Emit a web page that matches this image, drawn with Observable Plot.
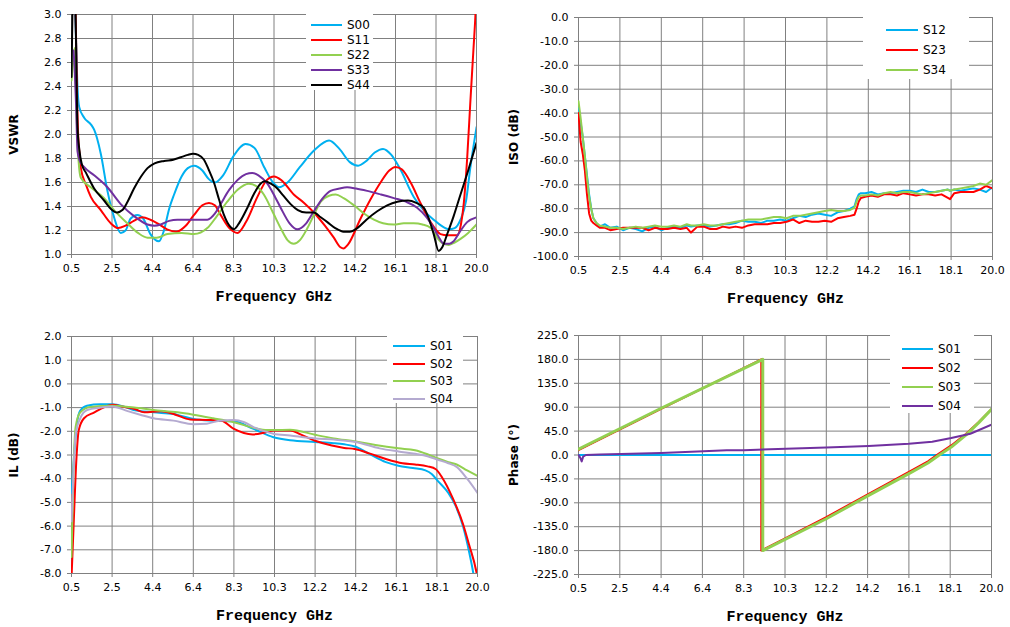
<!DOCTYPE html>
<html>
<head>
<meta charset="utf-8">
<script src="https://cdn.jsdelivr.net/npm/d3@7"></script>
<script src="https://cdn.jsdelivr.net/npm/@observablehq/plot@0.6"></script>
<style>
  html, body { margin: 0; padding: 0; background: #fff; }
  #wrap { position: relative; width: 1010px; height: 627px; overflow: hidden; background: #fff; }
  .panel { position: absolute; }
  .panel svg { display: block; overflow: visible; }
  g[aria-label="x-axis label"] text { font: bold 15px "Liberation Mono", monospace; }
  g[aria-label="y-axis label"] text { font: bold 12px "DejaVu Sans", sans-serif; }
  .legend { position: absolute; background: #fff; font: 12px "DejaVu Sans", sans-serif; color: #000; }
  .legend .sw { position: absolute; height: 2px; }
  .legend .lb { position: absolute; line-height: 14px; }
</style>
</head>
<body>
<div id="wrap"></div>
<script>
// ---------- shared x axis ----------
const xTicks = [0.5, 2.45, 4.4, 6.35, 8.3, 10.25, 12.2, 14.15, 16.1, 18.05, 20.0];
const xTickLabels = ["0.5","2.5","4.4","6.4","8.3","10.3","12.2","14.2","16.1","18.1","20.0"];

// ---------- VSWR ----------
const vswrTicks = [1.0,1.2,1.4,1.6,1.8,2.0,2.2,2.4,2.6,2.8,3.0];
const vswrNames = ["S00","S11","S22","S33","S44"];
const vswrColors = ["#00b0f0","#ff0000","#92d050","#7030a0","#000000"];
const vswrS00 = [[0.6,3.3],[0.71,2.84],[0.79,2.39],[0.87,2.23],[1.11,2.14],[1.45,2.08],[1.59,2.04],[1.91,1.84],[2.23,1.53],[2.55,1.31],[2.87,1.18],[3.1,1.2],[3.35,1.3],[3.67,1.33],[3.95,1.3],[4.3,1.17],[4.71,1.11],[4.95,1.2],[5.2,1.38],[5.44,1.5],[5.8,1.65],[6.1,1.72],[6.4,1.74],[6.8,1.7],[7.1,1.63],[7.4,1.6],[7.8,1.66],[8.3,1.82],[8.88,1.92],[9.3,1.89],[9.8,1.72],[10.2,1.6],[10.5,1.56],[10.9,1.6],[11.5,1.73],[12.2,1.87],[12.9,1.95],[13.4,1.88],[13.9,1.77],[14.3,1.74],[14.7,1.78],[15.1,1.85],[15.5,1.88],[15.9,1.83],[16.3,1.72],[16.98,1.48],[17.5,1.36],[17.94,1.29],[18.3,1.24],[18.67,1.21],[18.95,1.22],[19.23,1.29],[19.5,1.45],[19.7,1.72],[20,2.06]];
const vswrS11 = [[0.66,3.3],[0.72,2.8],[0.77,2.3],[0.82,2.0],[0.9,1.82],[0.95,1.72],[1.2,1.58],[1.43,1.48],[1.91,1.37],[2.39,1.26],[2.75,1.22],[3.1,1.24],[3.5,1.28],[3.9,1.31],[4.3,1.29],[4.64,1.26],[5.1,1.21],[5.55,1.19],[6.0,1.24],[6.4,1.33],[6.8,1.41],[7.12,1.43],[7.4,1.41],[7.68,1.33],[8.1,1.22],[8.49,1.18],[8.9,1.27],[9.45,1.48],[9.9,1.62],[10.25,1.65],[10.6,1.62],[11.2,1.5],[11.7,1.43],[12.17,1.35],[12.7,1.24],[13.13,1.14],[13.45,1.06],[13.6,1.05],[13.8,1.08],[14.42,1.30],[14.9,1.46],[15.38,1.6],[15.8,1.7],[16.1,1.73],[16.4,1.71],[16.83,1.6],[17.3,1.43],[17.79,1.27],[18.27,1.17],[18.6,1.16],[19.07,1.16],[19.25,1.25],[19.39,1.43],[19.55,1.8],[19.7,2.26],[19.85,2.7],[19.95,3.0],[20,3.2]];
const vswrS22 = [[0.5,2.45],[0.6,2.65],[0.66,2.72],[0.72,2.35],[0.78,1.98],[0.87,1.72],[0.95,1.64],[1.43,1.56],[2.07,1.47],[2.55,1.37],[3.19,1.26],[3.7,1.18],[4.16,1.14],[4.6,1.14],[5.12,1.17],[5.8,1.18],[6.4,1.17],[7.04,1.22],[7.5,1.32],[8.0,1.44],[8.5,1.54],[9.04,1.59],[9.4,1.57],[9.76,1.50],[10.2,1.35],[10.57,1.22],[10.9,1.12],[11.2,1.09],[11.5,1.12],[11.86,1.22],[12.2,1.34],[12.5,1.44],[12.9,1.49],[13.22,1.5],[13.6,1.47],[14.1,1.41],[14.6,1.34],[15.06,1.29],[15.5,1.26],[16.02,1.25],[16.5,1.26],[16.98,1.26],[17.4,1.25],[17.8,1.22],[18.1,1.14],[18.4,1.09],[18.67,1.08],[18.95,1.1],[19.23,1.13],[19.6,1.18],[20,1.25]];
const vswrS33 = [[0.6,2.7],[0.65,2.55],[0.72,2.25],[0.79,1.86],[0.9,1.78],[1.1,1.73],[1.59,1.66],[2.23,1.56],[2.87,1.42],[3.51,1.32],[4.16,1.25],[4.5,1.24],[4.8,1.25],[5.2,1.28],[5.6,1.29],[6.4,1.29],[7.04,1.29],[7.4,1.34],[7.68,1.42],[8.1,1.54],[8.49,1.62],[8.9,1.67],[9.2,1.68],[9.5,1.66],[9.93,1.59],[10.3,1.48],[10.57,1.39],[11.0,1.26],[11.37,1.21],[11.8,1.26],[12.17,1.36],[12.6,1.47],[12.97,1.53],[13.4,1.55],[13.77,1.56],[14.2,1.55],[14.74,1.53],[15.4,1.50],[16.02,1.47],[16.6,1.44],[17.14,1.39],[17.6,1.31],[17.94,1.22],[18.2,1.14],[18.42,1.09],[18.7,1.09],[18.9,1.11],[19.2,1.19],[19.55,1.27],[20,1.31]];
const vswrS44 = [[0.5,2.48],[0.56,3.2],[0.62,3.4],[0.69,3.1],[0.74,2.5],[0.79,2.06],[0.88,1.87],[1.0,1.75],[1.2,1.68],[1.59,1.55],[2.07,1.45],[2.4,1.38],[2.7,1.35],[2.95,1.37],[3.2,1.44],[3.51,1.55],[3.85,1.65],[4.16,1.72],[4.5,1.76],[4.96,1.78],[5.4,1.79],[5.76,1.81],[6.1,1.83],[6.35,1.84],[6.6,1.83],[6.88,1.79],[7.1,1.71],[7.36,1.60],[7.6,1.46],[7.84,1.33],[8.1,1.24],[8.32,1.21],[8.6,1.27],[8.97,1.39],[9.3,1.51],[9.6,1.59],[9.8,1.61],[10.1,1.59],[10.41,1.55],[10.7,1.49],[11.05,1.42],[11.4,1.37],[11.8,1.35],[12.17,1.35],[12.5,1.31],[12.82,1.27],[13.2,1.22],[13.6,1.19],[13.9,1.19],[14.26,1.22],[14.7,1.29],[15.22,1.36],[15.7,1.41],[16.19,1.44],[16.7,1.45],[17.1,1.43],[17.46,1.39],[17.7,1.3],[17.94,1.17],[18.18,1.03],[18.35,1.06],[18.59,1.17],[18.9,1.32],[19.23,1.50],[19.6,1.7],[20,1.93]];

// ---------- ISO ----------
const isoTicks = [0,-10,-20,-30,-40,-50,-60,-70,-80,-90,-100];
const isoNames = ["S12","S23","S34"];
const isoColors = ["#00b0f0","#ff0000","#92d050"];
const isoFreq = [0.5,0.6,0.7,0.8,0.9,1.0,1.1,1.2,1.35,1.5,1.75,2.0,2.3,2.6,2.9,3.2,3.5,3.8,4.1,4.4,4.7,5.0,5.3,5.6,5.8,6.1,6.4,6.7,7.0,7.3,7.6,7.9,8.2,8.5,8.8,9.1,9.4,9.7,10.0,10.3,10.6,10.9,11.2,11.5,11.8,12.1,12.4,12.7,13.0,13.3,13.5,13.6,13.7,13.8,14.0,14.3,14.6,14.9,15.2,15.5,15.8,16.1,16.4,16.7,17.0,17.3,17.6,17.9,18.0,18.2,18.5,18.8,19.1,19.4,19.7,20.0];
const isoS12 = [-38,-44,-50,-58,-66,-74,-80,-84,-86,-87.5,-86.5,-88,-87.5,-89,-88,-88.5,-89.5,-88,-87.5,-89,-88,-87.5,-88,-87,-87.5,-87,-87,-87.5,-87,-86.5,-86.5,-86,-85,-85.5,-85.5,-86,-85,-85,-84.5,-85,-84,-83,-83.5,-82.5,-82,-82.5,-83,-81.5,-81,-80,-79,-76,-74,-73.5,-73.5,-73,-74,-73.5,-73.5,-73,-72.5,-72.5,-73,-72,-73,-73,-72.5,-72,-72.5,-72,-72.5,-72,-71.5,-72,-73,-71];
const isoS23 = [-40,-52,-57,-64,-74,-82,-85,-86,-87,-88,-88,-89,-88.5,-88,-88,-88,-88,-89,-88,-88.5,-88.5,-88,-88.5,-88,-90,-87.5,-87.5,-88.5,-88.5,-87.5,-88,-87.5,-88,-87,-86.5,-86.5,-86.5,-86,-86,-85.5,-84.5,-86,-85,-85.5,-85.5,-85,-85.5,-84,-83.5,-83,-82.5,-80,-77,-75.5,-75,-74.5,-75,-74,-74,-74.5,-73.5,-74,-74.5,-74,-74,-74.5,-74,-75.5,-76,-73.5,-73,-73,-73,-72,-70.5,-71.5];
const isoS34 = [-35,-42,-50,-58,-67,-75,-80,-84,-86,-87,-87.5,-88,-88,-88.5,-88,-87.5,-88,-87.5,-87,-87.5,-87.5,-87,-87.5,-86.5,-87,-87,-86.5,-87,-87,-86.5,-86,-85.5,-85,-84.5,-84.5,-84.5,-84,-83.5,-83.5,-84,-83,-83,-82.5,-82,-81.5,-81,-80.5,-81,-81,-80.5,-79.5,-77,-75,-74.5,-74.5,-74,-74.5,-73.5,-73,-73.5,-73,-73,-73.5,-74,-73.5,-73,-72.5,-72,-72.5,-72,-71.5,-71,-70.5,-69.5,-70,-68];

// ---------- IL ----------
const ilTicks = [2,1,0,-1,-2,-3,-4,-5,-6,-7,-8];
const ilNames = ["S01","S02","S03","S04"];
const ilColors = ["#00b0f0","#ff0000","#92d050","#b4aad0"];
const ilS01 = [[0.5,-4.6],[0.55,-4.0],[0.63,-2.95],[0.76,-1.69],[0.92,-1.13],[1.24,-0.92],[1.88,-0.86],[2.45,-0.86],[3.0,-0.95],[3.48,-1.1],[4.44,-1.2],[5.4,-1.27],[6.35,-1.48],[7.3,-1.55],[8.3,-1.58],[9.24,-1.9],[10.2,-2.25],[11.0,-2.38],[12.2,-2.45],[13.1,-2.5],[13.6,-2.55],[14.15,-2.65],[14.8,-2.95],[15.6,-3.3],[16.2,-3.45],[16.9,-3.55],[17.5,-3.65],[17.8,-3.8],[18.1,-4.1],[18.6,-4.6],[18.95,-5.15],[19.3,-6.0],[19.6,-7.1],[19.8,-8.0],[19.9,-8.6]];
const ilS02 = [[0.5,-8.2],[0.6,-6.0],[0.74,-3.1],[0.85,-1.95],[1.1,-1.45],[1.6,-1.2],[1.9,-1.05],[2.5,-0.88],[2.9,-0.95],[3.5,-1.05],[4.0,-1.2],[4.8,-1.15],[5.4,-1.27],[6.2,-1.5],[7.0,-1.52],[7.7,-1.55],[8.3,-1.9],[9.2,-2.13],[9.8,-2.05],[10.2,-1.97],[11.0,-1.97],[11.5,-2.13],[12.2,-2.4],[13.0,-2.6],[13.6,-2.7],[14.1,-2.75],[14.8,-2.93],[15.6,-3.17],[16.4,-3.35],[17.0,-3.4],[17.6,-3.48],[18.0,-3.6],[18.3,-3.95],[18.8,-4.8],[19.3,-5.9],[19.6,-6.8],[19.95,-7.95],[20.0,-8.2]];
const ilS03 = [[0.5,-7.3],[0.6,-3.5],[0.7,-1.8],[0.92,-1.2],[1.4,-0.97],[2.45,-0.92],[3.5,-1.0],[4.44,-1.1],[5.6,-1.2],[6.35,-1.3],[7.3,-1.45],[8.3,-1.62],[9.24,-1.85],[9.9,-1.95],[11.0,-1.93],[12.2,-2.15],[13.1,-2.3],[14.15,-2.43],[15.1,-2.58],[16.2,-2.72],[17.0,-2.8],[17.6,-2.97],[18.1,-3.15],[18.6,-3.3],[19.0,-3.4],[19.5,-3.65],[20.0,-3.88]];
const ilS04 = [[0.5,-5.8],[0.6,-3.6],[0.7,-2.1],[0.92,-1.45],[1.25,-1.1],[1.9,-1.0],[2.45,-0.95],[3.2,-1.15],[3.8,-1.3],[4.44,-1.45],[5.4,-1.55],[6.35,-1.7],[7.0,-1.68],[7.6,-1.55],[8.3,-1.52],[8.8,-1.62],[9.24,-1.82],[10.2,-2.1],[11.0,-2.18],[12.2,-2.3],[13.1,-2.35],[14.15,-2.45],[15.3,-2.72],[16.2,-2.85],[17.0,-2.95],[17.6,-3.05],[18.1,-3.2],[18.6,-3.35],[19.0,-3.5],[19.5,-4.0],[20.0,-4.6]];

// ---------- Phase ----------
const phTicks = [225,180,135,90,45,0,-45,-90,-135,-180,-225];
const phNames = ["S01","S02","S03","S04"];
const phColors = ["#00b0f0","#ff0000","#92d050","#7030a0"];
const phS01 = [[0.5,0],[20.0,0]];
const phS02 = [[0.5,9],[4.4,87],[9.13,180],[9.13,-180],[10.3,-156],[12.2,-117],[14.2,-73],[16.1,-32],[17.0,-12],[17.5,2],[18.1,18],[18.8,40],[19.4,62],[20.0,86]];
const phS03 = [[0.5,11],[4.4,88],[9.2,180],[9.2,-180],[10.3,-158],[12.2,-120],[14.2,-76],[16.1,-35],[17.0,-15],[17.5,-1],[18.1,15],[18.8,38],[19.4,61],[20.0,86]];
const phS04 = [[0.5,0],[0.58,-5],[0.65,-12],[0.72,-3],[0.85,0],[1.5,1],[2.5,2],[4.4,4],[6.4,7],[7.5,9],[8.3,9],[10.3,12],[12.2,14],[14.2,17],[16.1,21],[17.2,25],[18.1,32],[19.0,40],[20.0,57]];

// ---------- helpers ----------
const wrap = document.getElementById("wrap");
const gridColor = "#808080";
const xLabel = d => xTickLabels[xTicks.indexOf(d)];

function panel(opts) {
  const {left, top, width, height, margins, yDomain, yTicks, yFmt, yLabel, yLabelOffset, series, curve} = opts;
  const marks = [
    Plot.gridX(xTicks, {stroke: gridColor, strokeOpacity: 1}),
    Plot.gridY(yTicks, {stroke: gridColor, strokeOpacity: 1}),
    Plot.axisX(xTicks, {tickFormat: xLabel, tickSize: 4, tickPadding: 6, stroke: gridColor, fill: "#000",
      label: "Frequency GHz", labelAnchor: "center", labelArrow: "none", labelOffset: 46}),
    Plot.axisY(yTicks, {tickFormat: yFmt, tickSize: 4, tickPadding: 6, stroke: gridColor, fill: "#000",
      label: yLabel, labelAnchor: "center", labelArrow: "none", labelOffset: yLabelOffset})
  ];
  for (const s of series) {
    marks.push(Plot.line(s.data, {x: d => d[0], y: d => d[1], stroke: s.color, strokeWidth: s.width || 2, curve: curve, clip: true}));
  }
  const svg = Plot.plot({
    width, height,
    marginLeft: margins[0], marginRight: margins[1], marginTop: margins[2], marginBottom: margins[3],
    x: {domain: [0.5, 20]},
    y: {domain: yDomain},
    style: {fontFamily: "DejaVu Sans, sans-serif", fontSize: "11px", color: "#000", background: "transparent", overflow: "visible"},
    marks
  });
  const div = document.createElement("div");
  div.className = "panel";
  div.style.left = left + "px"; div.style.top = top + "px";
  div.appendChild(svg);
  wrap.appendChild(div);
}

function legend(opts) {
  const {left, top, width, height, names, colors, lineX0, lineX1, labelX, rowY} = opts;
  const box = document.createElement("div");
  box.className = "legend";
  box.style.left = left + "px"; box.style.top = top + "px";
  box.style.width = width + "px"; box.style.height = height + "px";
  names.forEach((n, i) => {
    const sw = document.createElement("div");
    sw.className = "sw";
    sw.style.left = (lineX0 - left) + "px"; sw.style.width = (lineX1 - lineX0) + "px";
    sw.style.top = (rowY[i] - top - 1) + "px"; sw.style.background = colors[i];
    box.appendChild(sw);
    const lb = document.createElement("div");
    lb.className = "lb"; lb.textContent = n;
    lb.style.left = (labelX - left) + "px"; lb.style.top = (rowY[i] - top - 7) + "px";
    box.appendChild(lb);
  });
  wrap.appendChild(box);
}

const mk = (names, colors, datas, widths) => names.map((n, i) => ({name: n, color: colors[i], data: datas[i], width: widths ? widths[i] : 2}));

// Top-left: VSWR
panel({left: 0, top: 0, width: 505, height: 313, margins: [71, 29, 14, 59],
  yDomain: [1, 3], yTicks: vswrTicks, yFmt: d => d.toFixed(1), yLabel: "VSWR", yLabelOffset: 62,
  series: mk(vswrNames, vswrColors, [vswrS00, vswrS11, vswrS22, vswrS33, vswrS44]), curve: "monotone-x"});
legend({left: 306, top: 14, width: 67, height: 76, names: vswrNames, colors: vswrColors,
  lineX0: 311, lineX1: 342, labelX: 347, rowY: [25, 40, 55, 70, 85]});

// Top-right: ISO
panel({left: 505, top: 0, width: 505, height: 313, margins: [73, 18, 17, 57],
  yDomain: [-100, 0], yTicks: isoTicks, yFmt: d => d.toFixed(1), yLabel: "ISO (dB)", yLabelOffset: 69,
  series: mk(isoNames, isoColors, [isoS12, isoS23, isoS34].map(a => a.map((v, i) => [isoFreq[i], v]))), curve: "linear"});
legend({left: 863, top: 17, width: 106, height: 62, names: isoNames, colors: isoColors,
  lineX0: 886, lineX1: 918, labelX: 923, rowY: [30, 50, 70]});

// Bottom-left: IL
panel({left: 0, top: 313, width: 505, height: 314, margins: [71, 28, 23, 54],
  yDomain: [-8, 2], yTicks: ilTicks, yFmt: d => d.toFixed(1), yLabel: "IL (dB)", yLabelOffset: 62,
  series: mk(ilNames, ilColors, [ilS01, ilS02, ilS03, ilS04]), curve: "monotone-x"});
legend({left: 387, top: 336, width: 76, height: 67, names: ilNames, colors: ilColors,
  lineX0: 393, lineX1: 425, labelX: 430, rowY: [346, 363.5, 381, 399]});

// Bottom-right: Phase
panel({left: 505, top: 313, width: 505, height: 314, margins: [73, 19, 22, 53],
  yDomain: [-225, 225], yTicks: phTicks, yFmt: d => d.toFixed(1), yLabel: "Phase (°)", yLabelOffset: 69,
  series: mk(phNames, phColors, [phS01, phS02, phS03, phS04], [2, 2, 3, 2]), curve: "linear"});
legend({left: 890, top: 335, width: 84, height: 78, names: phNames, colors: phColors,
  lineX0: 902, lineX1: 933, labelX: 938, rowY: [349, 368, 387, 406]});
</script>
</body>
</html>
